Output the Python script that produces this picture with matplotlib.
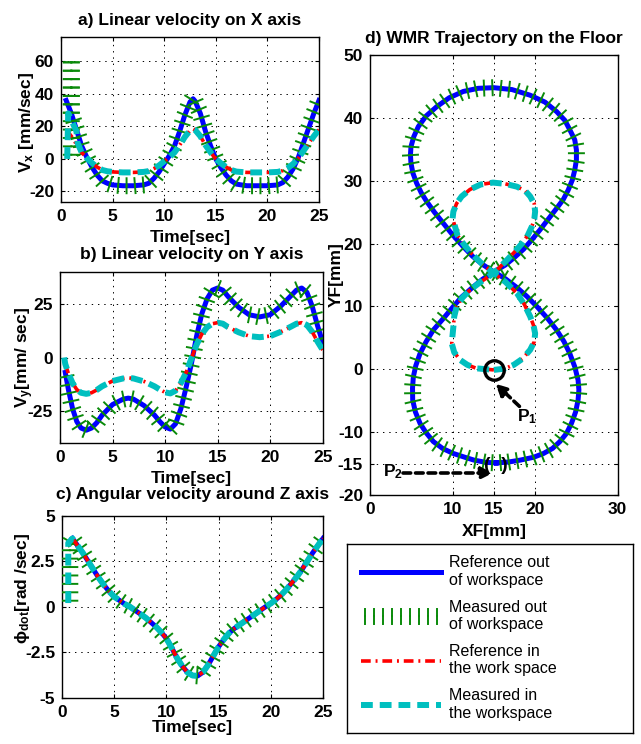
import matplotlib
matplotlib.use("Agg")
import matplotlib.pyplot as plt
from matplotlib import patheffects as pe

plt.rcParams['font.family'] = ['Liberation Sans', 'DejaVu Sans']
plt.rcParams['font.weight'] = 'bold'
plt.rcParams['axes.unicode_minus'] = False
plt.rcParams['mathtext.fontset'] = 'custom'
plt.rcParams['mathtext.rm'] = 'Liberation Sans:bold'
plt.rcParams['mathtext.bf'] = 'Liberation Sans:bold'
plt.rcParams['mathtext.it'] = 'Liberation Sans:bold'
plt.rcParams['mathtext.default'] = 'bf'
plt.rcParams['lines.scale_dashes'] = False

# ---------------- a) linear velocity on X ----------------
t_vx = [0.5, 1, 1.5, 2, 2.5, 3, 3.5, 4, 4.5, 5,
        6, 7, 8, 8.5, 9, 9.5, 10, 10.5, 11, 11.5,
        12, 12.5, 12.8, 13, 13.5, 14, 14.5, 15, 15.5, 16,
        16.5, 17, 18, 19, 20, 21, 21.5, 22, 22.5, 23,
        23.5, 24, 24.5, 25]
vx_ref_out = [36, 28, 18, 8, 1, -5, -10, -13.5, -15, -16,
              -16.5, -16.5, -16, -15, -12, -8, -3, 2, 8, 17,
              27, 35, 37, 35.5, 28, 17, 8, 0, -5.5, -10,
              -13.5, -15.5, -16.5, -16.5, -16.5, -16, -14.5, -11, -6, 1,
              10, 19, 28, 36]
vx_ref_in = [18, 14, 9, 4, 0.5, -2.5, -5, -6.8, -7.6, -8,
             -8.3, -8.3, -8, -7.5, -6, -4, -1.5, 1, 4, 8.5,
             13.5, 17.5, 18.5, 17.8, 14, 8.5, 4, 0, -2.7, -5,
             -6.8, -7.8, -8.3, -8.3, -8.3, -8, -7.2, -5.5, -3, 0.5,
             5, 9.5, 14, 18]
t_vx_meas_out = [1.0, 1.0, 1.0, 1.5, 2, 2.5, 3, 3.5, 4, 4.5, 5,
                 6, 7, 8, 8.5, 9, 9.5, 10, 10.5, 11, 11.5,
                 12, 12.5, 12.8, 13, 13.5, 14, 14.5, 15, 15.5, 16,
                 16.5, 17, 18, 19, 20, 21, 21.5, 22, 22.5, 23,
                 23.5, 24, 24.5, 25]
vx_meas_out = [0, 62, 28, 18, 8, 1, -5, -10, -13.5, -15, -16,
               -16.5, -16.5, -16, -15, -12, -8, -3, 2, 8, 17,
               27, 35, 38, 35.5, 28, 17, 8, 0, -5.5, -10,
               -13.5, -15.5, -16.5, -16.5, -16.5, -16, -14.5, -11, -6, 1,
               10, 19, 28, 36]
t_vx_meas_in = [0.6, 0.7, 1.5, 1.6, 2, 2.5, 3, 3.5, 4, 4.5, 5,
                6, 7, 8, 8.5, 9, 9.5, 10, 10.5, 11, 11.5,
                12, 12.5, 12.8, 13, 13.5, 14, 14.5, 15, 15.5, 16,
                16.5, 17, 18, 19, 20, 21, 21.5, 22, 22.5, 23,
                23.5, 24, 24.5, 25]
vx_meas_in = [0, 28, 17, 10, 4, 0.5, -2.5, -5, -6.8, -7.6, -8,
              -8.3, -8.3, -8, -7.5, -6, -4, -1.5, 1, 4, 8.5,
              13.5, 17.5, 18.5, 17.8, 14, 8.5, 4, 0, -2.7, -5,
              -6.8, -7.8, -8.3, -8.3, -8.3, -8, -7.2, -5.5, -3, 0.5,
              5, 9.5, 14, 18]

# ---------------- b) linear velocity on Y ----------------
t_vy = [0.5, 0.8, 1.2, 1.6, 2, 2.5, 3, 3.5, 4, 5,
        6, 6.5, 7, 8, 9, 9.5, 10, 10.5, 11, 11.5,
        12, 12.5, 13, 13.5, 14, 14.5, 15, 15.5, 16, 17,
        18, 19, 20, 21, 22, 22.5, 23, 23.5, 24, 24.5,
        25]
vy_ref_out = [-7, -15, -24, -30, -33, -34, -33, -30.5, -27, -22,
              -19.5, -19, -19.5, -22.5, -27, -30, -32.5, -33.5, -31, -24,
              -14, -3, 10, 20.5, 27.5, 31.5, 32.5, 31.5, 28.5, 23.5,
              20, 19, 20, 24, 29, 31.5, 32.5, 30.5, 24, 15,
              7]
vy_ref_in = [-3, -7.5, -12, -15, -16.5, -17, -16.5, -15.2, -13.5, -11,
             -9.8, -9.5, -9.8, -11.2, -13.5, -15, -16.3, -16.8, -15.5, -12,
             -7, -0.5, 6, 11, 14.2, 15.8, 16.3, 15.8, 14.2, 11.8,
             10, 9.5, 10, 12, 14.5, 15.8, 16.3, 15.2, 12, 7.5,
             3.5]
t_vy_meas_in = [0.4, 0.5, 0.8, 1.2, 1.6, 2, 2.5, 3, 3.5, 4, 5,
                6, 6.5, 7, 8, 9, 9.5, 10, 10.5, 11, 11.5,
                12, 12.5, 13, 13.5, 14, 14.5, 15, 15.5, 16, 17,
                18, 19, 20, 21, 22, 22.5, 23, 23.5, 24, 24.5,
                25]
vy_meas_in = [0, -3, -7.5, -12, -15, -16.5, -17, -16.5, -15.2, -13.5, -11,
              -9.8, -9.5, -9.8, -11.2, -13.5, -15, -16.3, -16.8, -15.5, -12,
              -7, -0.5, 6, 11, 14.2, 15.8, 16.3, 15.8, 14.2, 11.8,
              10, 9.5, 10, 12, 14.5, 15.8, 16.3, 15.2, 12, 7.5,
              3.5]

# ---------------- c) angular velocity around Z ----------------
t_w = [1, 1.5, 2, 2.5, 3, 3.5, 4, 4.5, 5, 5.5,
       6, 6.5, 7, 7.5, 8, 8.5, 9, 9.5, 10, 10.5,
       11, 11.5, 12, 12.5, 13, 13.5, 14, 14.5, 15, 15.5,
       16, 16.5, 17, 17.5, 18, 18.5, 19, 19.5, 20, 20.5,
       21, 21.5, 22, 22.5, 23, 23.5, 24, 24.5, 25]
w_ref = [3.75, 3.35, 2.95, 2.5, 2.05, 1.6, 1.2, 0.85, 0.55, 0.35,
         0.15, 0.0, -0.2, -0.4, -0.6, -0.85, -1.1, -1.4, -1.75, -2.25,
         -2.8, -3.25, -3.6, -3.78, -3.8, -3.6, -3.2, -2.7, -2.2, -1.8,
         -1.45, -1.2, -1.0, -0.8, -0.6, -0.4, -0.2, 0.0, 0.18, 0.4,
         0.65, 0.95, 1.3, 1.65, 2.05, 2.5, 2.95, 3.35, 3.75]
t_w_meas_out = [0.75, 0.75] + t_w
w_meas_out = [0.1, 3.5] + w_ref
t_w_meas_in = [0.6, 0.6] + t_w
w_meas_in = [0.2, 3.5] + w_ref

# ---------------- d) trajectory on the floor ----------------
xf_out = [15.3, 16.8, 18.2, 19.8, 21.0, 22.1, 23.0, 23.8, 24.4, 24.9,
          25.2, 25.3, 25.2, 24.8, 24.2, 23.5, 22.6, 21.5, 20.2, 19.0,
          17.8, 16.4, 15.0, 13.6, 12.4, 11.3, 10.0, 8.9, 7.8, 6.86,
          6.2, 5.65, 5.2, 4.96, 4.9, 4.96, 5.3, 5.85, 6.8, 8.1,
          9.6, 11.3, 13.1, 15.0, 17.2, 19.4, 21.2, 22.6, 23.6, 24.2,
          24.8, 25.0, 25.0, 24.8, 24.5, 24.0, 23.4, 22.6, 21.6, 20.6,
          19.6, 18.6, 17.5, 16.4, 15.0, 13.6, 12.4, 11.1, 10.1, 8.9,
          7.67, 6.8, 6.06, 5.55, 5.25, 5.15, 5.17, 5.5, 6.06, 6.8,
          7.67, 8.8, 10.1, 11.5, 12.6, 14.0, 15.3]
yf_out = [-14.9, -14.75, -14.45, -14.0, -13.4, -12.6, -11.5, -10.2, -8.6, -6.8,
          -4.9, -3.3, -1.7, 0.4, 2.5, 4.4, 6.25, 8.1, 10.0, 11.6,
          13.0, 14.4, 15.5, 16.7, 18.0, 19.5, 21.4, 23.2, 25.0, 26.7,
          28.1, 29.6, 31.2, 32.8, 34.1, 35.4, 37.0, 38.6, 40.3, 41.8,
          43.2, 44.2, 44.7, 44.8, 44.5, 43.6, 42.5, 41.0, 39.6, 38.1,
          36.5, 34.9, 33.3, 31.7, 30.1, 28.5, 27.0, 25.6, 23.9, 22.2,
          20.6, 19.1, 17.8, 16.6, 15.5, 14.3, 13.0, 11.5, 10.0, 8.1,
          6.25, 4.4, 2.5, 0.6, -1.2, -3.0, -4.9, -6.8, -8.6, -10.1,
          -11.5, -12.6, -13.4, -14.0, -14.45, -14.8, -14.9]
xf_in = [15.0, 16.3, 17.4, 18.5, 19.4, 19.9, 20.0, 19.8, 19.4, 18.7,
         17.8, 16.4, 15.0, 13.8, 13.0, 12.1, 11.3, 10.6, 10.3, 10.0,
         10.1, 10.5, 11.1, 12.1, 13.4, 14.9, 16.4, 17.8, 18.8, 19.4,
         19.9, 20.0, 19.9, 19.6, 19.1, 18.4, 17.6, 16.6, 15.0, 13.4,
         12.1, 11.2, 10.5, 10.2, 10.1, 9.9, 10.2, 10.9, 11.8, 12.9,
         15.0]
yf_in = [-0.1, 0.1, 0.7, 1.7, 3.1, 4.4, 5.7, 7.0, 8.4, 10.3,
         12.1, 13.9, 15.3, 16.5, 17.5, 18.7, 20.0, 21.3, 22.7, 24.0,
         25.1, 26.4, 27.5, 28.6, 29.4, 29.7, 29.5, 29.05, 28.4, 27.5,
         26.3, 25.1, 23.9, 22.7, 21.3, 20.0, 18.8, 17.4, 15.3, 13.9,
         12.6, 11.4, 10.0, 8.4, 6.8, 4.1, 2.7, 1.5, 0.7, 0.15,
         -0.1]

BLUE, GREEN, RED, CYAN = '#0000ff', '#0a8a0a', '#ff0000', '#00bfbf'
TICKS = [pe.TickedStroke(spacing=6.0, angle=90, length=0.9),
         pe.TickedStroke(spacing=6.0, angle=-90, length=0.9)]
FS = 12.5

W, H = 641, 744
fig = plt.figure(figsize=(W / 100, H / 100), dpi=100)


def add_axes_px(left, top, right, bottom):
    return fig.add_axes([left / W, 1 - bottom / H, (right - left) / W, (bottom - top) / H])


def style(ax):
    ax.grid(True, color='k', linestyle=(0, (1, 3.5)), linewidth=0.7)
    ax.set_axisbelow(True)
    ax.tick_params(direction='in', top=True, right=True, length=3, width=0.8,
                   labelsize=FS, pad=5)
    for s in ax.spines.values():
        s.set_linewidth(1.0)


def draw_set(ax, ro, mo, ri, mi):
    h1, = ax.plot(*ro, color=BLUE, lw=3.6, zorder=2)
    h2, = ax.plot(*mo, color=GREEN, lw=1.4, path_effects=TICKS, zorder=3)
    h3, = ax.plot(*ri, color=RED, lw=2.6, dashes=[7, 3.5, 1.4, 3.5], zorder=4)
    h4, = ax.plot(*mi, color=CYAN, lw=4.3, dashes=[8.5, 5], zorder=5)
    return [h1, h2, h3, h4]


def labels(ax, title, xlabel, ylabel, title_pad, xl_y, yl_x, yl_y):
    ax.set_title(title, fontsize=FS, fontweight='bold', pad=title_pad)
    ax.set_xlabel(xlabel, fontsize=FS, fontweight='bold')
    ax.set_ylabel(ylabel, fontsize=FS, fontweight='bold')
    ax.xaxis.set_label_coords(0.5, xl_y)
    ax.yaxis.set_label_coords(yl_x, yl_y)


# a)
ax_a = add_axes_px(61, 37, 319, 202)
draw_set(ax_a, (t_vx, vx_ref_out), (t_vx_meas_out, vx_meas_out),
         (t_vx, vx_ref_in), (t_vx_meas_in, vx_meas_in))
ax_a.set_xlim(0, 25)
ax_a.set_ylim(-26.5, 75)
ax_a.set_xticks([0, 5, 10, 15, 20, 25])
ax_a.set_yticks([-20, 0, 20, 40, 60])
style(ax_a)
labels(ax_a, 'a) Linear velocity on X axis', 'Time[sec]', 'V$_\\mathbf{x}$ [mm/sec]',
       9, -0.172, -0.097, 0.485)

# b)
ax_b = add_axes_px(60, 272, 322.7, 443)
draw_set(ax_b, (t_vy, vy_ref_out), (t_vy, vy_ref_out),
         (t_vy, vy_ref_in), (t_vy_meas_in, vy_meas_in))
ax_b.set_xlim(0, 25)
ax_b.set_ylim(-40, 40)
ax_b.set_xticks([0, 5, 10, 15, 20, 25])
ax_b.set_yticks([-25, 0, 25])
style(ax_b)
labels(ax_b, 'b) Linear velocity on Y axis', 'Time[sec]', 'V$_\\mathbf{y}$[mm/ sec]',
       9, -0.164, -0.09, 0.5)

# c)
ax_c = add_axes_px(62, 515.7, 323, 697.7)
draw_set(ax_c, (t_w, w_ref), (t_w_meas_out, w_meas_out),
         (t_w, w_ref), (t_w_meas_in, w_meas_in))
ax_c.set_xlim(0, 25)
ax_c.set_ylim(-5, 5)
ax_c.set_xticks([0, 5, 10, 15, 20, 25])
ax_c.set_yticks([-5, -2.5, 0, 2.5, 5])
ax_c.set_yticklabels(['-5', '-2.5', '0', '2.5', '5'])
style(ax_c)
labels(ax_c, 'c) Angular velocity around Z axis', 'Time[sec]', 'ϕ$_\\mathbf{dot}$[rad /sec]',
       12, -0.122, -0.115, 0.6)

# d)
ax_d = add_axes_px(370, 55, 617.7, 495)
handles = draw_set(ax_d, (xf_out, yf_out), (xf_out, yf_out),
                   (xf_in, yf_in), (xf_in, yf_in))
ax_d.set_xlim(0, 30)
ax_d.set_ylim(-20, 50)
ax_d.set_xticks([0, 10, 15, 20, 30])
ax_d.set_yticks([-20, -15, -10, 0, 10, 20, 30, 40, 50])
style(ax_d)
labels(ax_d, 'd) WMR Trajectory on the Floor', 'XF[mm]', 'YF[mm]',
       9, -0.065, -0.105, 0.5)

# start points of the two trajectories
p1 = (xf_in[0], yf_in[0])
p2 = (xf_out[0], yf_out[0])
arrow_style = dict(arrowstyle='-|>', lw=2.6, ls=(0, (5.5, 3.5)), color='k',
                   mutation_scale=17, shrinkA=0, shrinkB=0)
ax_d.plot(*p1, marker='o', ms=14, mfc='none', mec='k', mew=2.4, zorder=6)
ax_d.annotate('', xy=(p1[0] + 0.2, p1[1] - 2.2), xytext=(18.1, -5.9),
              arrowprops=arrow_style, zorder=6)
ax_d.text(19.0, -7.5, 'P$_\\mathbf{1}$', fontsize=FS, fontweight='bold',
          ha='center', va='center', zorder=6)
ax_d.annotate('', xy=(p2[0] - 0.4, p2[1] - 1.6), xytext=(4.0, p2[1] - 1.6),
              arrowprops=arrow_style, zorder=6)
ax_d.text(2.8, p2[1] - 1.4, 'P$_\\mathbf{2}$', fontsize=FS, fontweight='bold',
          ha='center', va='center', zorder=6)
ax_d.text(p2[0], p2[1] - 0.4, '(  )', fontsize=14, fontweight='bold',
          ha='center', va='center', zorder=7)

# legend panel
ax_l = add_axes_px(346.7, 544, 632.7, 733)
ax_l.set_xticks([])
ax_l.set_yticks([])
for s in ax_l.spines.values():
    s.set_linewidth(1.0)
legend_labels = ['Reference out\nof workspace', 'Measured out\nof workspace',
                 'Reference in\nthe work space', 'Measured in\nthe workspace']
ax_l.legend(handles, legend_labels, loc='upper left', bbox_to_anchor=(0.05, 0.94),
            frameon=False, handlelength=5, handletextpad=0.5, labelspacing=0.75,
            borderaxespad=0, borderpad=0,
            prop=dict(family=['Liberation Sans', 'DejaVu Sans'], weight='normal', size=11.5))

fig.savefig('out.png', dpi=100)
